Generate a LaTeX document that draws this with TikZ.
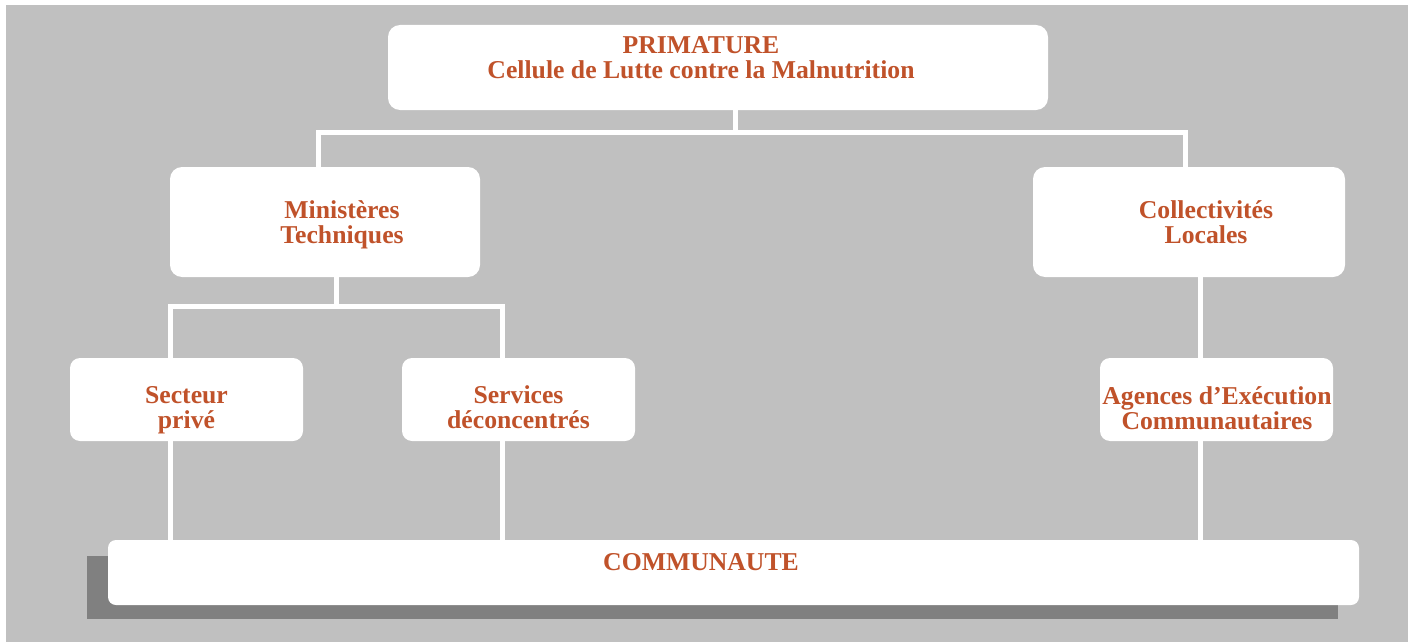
\documentclass[tikz,border=0pt]{standalone}
\usepackage{fontspec}
\setmainfont{Liberation Serif}
\usepackage{xcolor}
\usepackage{tikz}
\usetikzlibrary{positioning}
\definecolor{bgcol}{RGB}{192,192,192}
\definecolor{shadowcol}{RGB}{128,128,128}
\definecolor{txtcol}{RGB}{192,82,42}
\tikzset{
    block/.style={
           rectangle,
           rounded corners=12pt,
           fill=white,
           inner sep=0pt,
           },
     lbl/.style={
           inner sep=0pt,
           align=center,
           text=txtcol,
           font=\fontsize{25.7}{25}\selectfont\bfseries,
           },
     link/.style={
           draw=white,
           line width=5pt,
           },
}

\begin{document}
\begin{tikzpicture}[x=1pt, y=-1pt]
	\useasboundingbox (0,0) rectangle (1408,642);
	\fill[bgcol] (6,5) rectangle (1408,642);
	
	% shadow under the community box
	\fill[shadowcol] (87,556) rectangle (1338,619);
	
	\node[block, minimum width=660pt, minimum height=85pt] (prim) at (718,67.5) {};
	\node[lbl] (primtxt) at (701,58) {PRIMATURE\\Cellule de Lutte contre la Malnutrition};
	
	\node[block, minimum width=310pt, minimum height=110pt] (mt) at (325,222) {};
	\node[lbl] (mttxt) at (342,225) {Ministères\\Techniques};
	
	\node[block, minimum width=312pt, minimum height=110pt] (cl) at (1189,222) {};
	\node[lbl] (cltxt) at (1206,222.2) {Collectivités\\Locales};
	
	\node[block, rounded corners=10pt, minimum width=233pt, minimum height=83pt] (sp) at (186.5,399.5) {};
	\node[lbl] (sptxt) at (186.5,410.5) {Secteur\\privé};
	
	\node[block, rounded corners=10pt, minimum width=233pt, minimum height=83pt] (sd) at (518.5,399.5) {};
	\node[lbl] (sdtxt) at (518.5,407.7) {Services\\déconcentrés};
	
	\node[block, rounded corners=10pt, minimum width=233pt, minimum height=83pt] (ae) at (1216.5,399.5) {};
	\node[lbl] (aetxt) at (1217,408) {Agences d’Exécution\\Communautaires};
	
	\node[block, rounded corners=8pt, minimum width=1251pt, minimum height=65pt] (com) at (733.5,572.5) {};
	\node[lbl] (comtxt) at (701,562.5) {COMMUNAUTE};
	
	\coordinate (topbus) at (735.5,132);
	\coordinate (midbus) at (336,306.5);
	
	\draw[link] (prim.south -| topbus) -- (topbus);
	\draw[link] ([xshift=-7pt]mt.north) |- (topbus) -| ([xshift=-4pt]cl.north);
	
	\draw[link] (mt.south -| midbus) -- (midbus);
	\draw[link] ([xshift=-16.5pt]sp.north) |- (midbus) -| ([xshift=-16.5pt]sd.north);
	
	\draw[link] ([xshift=-16.5pt]ae.north) -- ([xshift=-16.5pt]ae.north |- cl.south);
	
	\draw[link] ([xshift=-16.5pt]sp.south) -- ([xshift=-16.5pt]sp.south |- com.north);
	\draw[link] ([xshift=-16.5pt]sd.south) -- ([xshift=-16.5pt]sd.south |- com.north);
	\draw[link] ([xshift=-16.5pt]ae.south) -- ([xshift=-16.5pt]ae.south |- com.north);

\end{tikzpicture}
\end{document}
